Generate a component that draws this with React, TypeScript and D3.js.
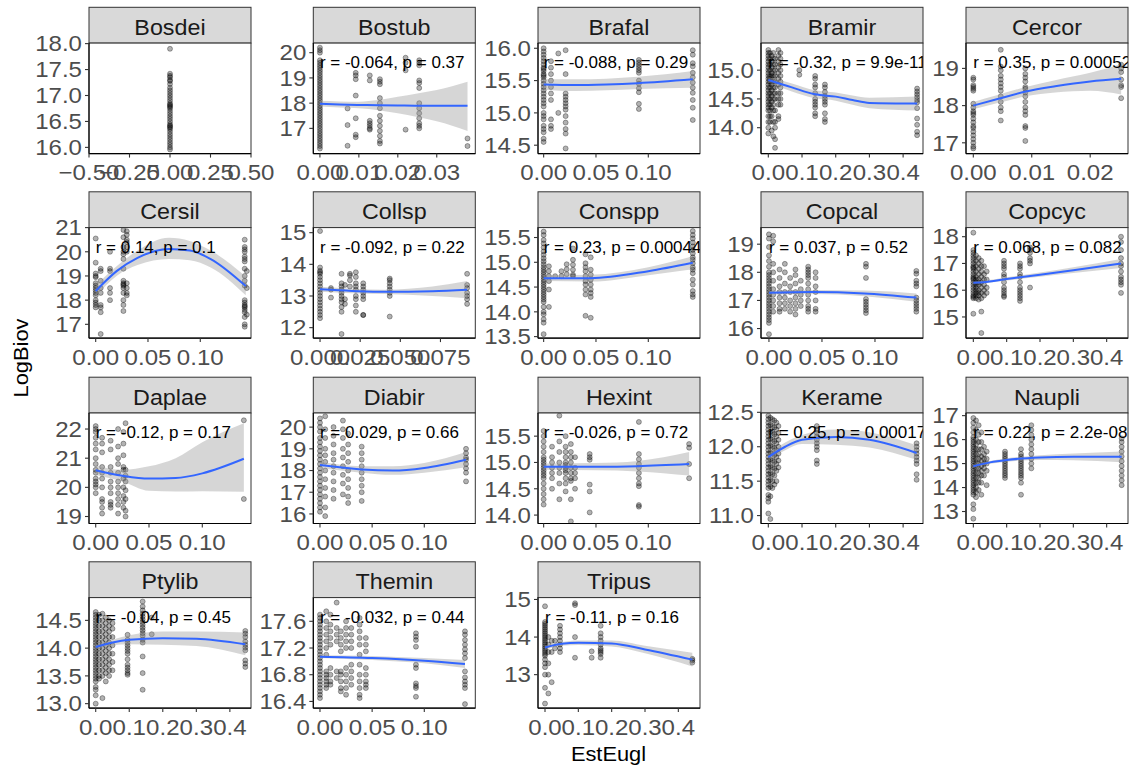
import * as d3 from 'd3';

type Group = [number, number[]];
type Band = [number, number, number, number]; // x, fit, lower, upper

// ---------- data ----------
const bosdeiPts: Group[] = [
  [0, [17.9, 17.42, 17.38, 17.35, 17.3, 17.28, 17.22, 17.15, 17.1, 17.05, 17.0, 16.95, 16.9, 16.85, 16.82, 16.8, 16.78, 16.75, 16.7, 16.65, 16.6, 16.55, 16.5, 16.45, 16.42, 16.4, 16.38, 16.35, 16.3, 16.25, 16.2, 16.15, 16.1, 16.05, 16.0, 15.96]],
];

const bostubPts: Group[] = [
  [0, [20.2, 20.1, 20.0, 19.7, 19.6, 19.5, 19.4, 19.3, 19.2, 19.1, 19.0, 18.9, 18.8, 18.7, 18.6, 18.5, 18.4, 18.3, 18.2, 18.1, 18.0, 17.9, 17.8, 17.7, 17.6, 17.5, 17.4, 17.3, 17.2, 17.1, 17.0, 16.9, 16.8, 16.7, 16.6, 16.5, 16.4, 16.3, 16.2]],
  [0.0071, [17.79, 17.13, 16.31]],
  [0.0092, [19.2, 19.1, 18.95, 18.3, 17.4, 16.75, 16.65]],
  [0.0128, [19.1, 18.9, 17.3, 17.2, 17.1, 17.0, 16.95]],
  [0.0154, [18.95, 18.85, 18.75, 18.2, 18.0, 17.8, 17.5, 17.3, 17.1, 16.9, 16.7, 16.5, 16.4]],
  [0.022, [19.8, 19.6, 19.3, 16.95]],
  [0.0255, [19.7, 19.6, 19.5, 18.9, 18.8, 18.6, 18.0, 17.8, 17.6, 17.4, 17.2, 17.1, 17.0]],
  [0.0379, [16.6, 16.3]],
];
const bostubFit: Band[] = [
  [0, 17.98, 17.87, 18.09], [0.005, 17.95, 17.83, 18.07], [0.01, 17.93, 17.8, 18.06], [0.015, 17.92, 17.72, 18.12],
  [0.02, 17.91, 17.6, 18.25], [0.025, 17.9, 17.45, 18.38], [0.03, 17.9, 17.28, 18.52], [0.0379, 17.9, 16.9, 18.85],
];

const brafalPts: Group[] = [
  [0, [16.0, 15.95, 15.9, 15.85, 15.8, 15.75, 15.7, 15.68, 15.65, 15.6, 15.58, 15.55, 15.5, 15.45, 15.4, 15.35, 15.3, 15.25, 15.2, 15.15, 15.1, 15.0, 14.95, 14.9, 14.8, 14.75, 14.7, 14.6, 14.55]],
  [0.007, [15.8, 15.7, 15.6, 15.5, 15.4, 15.3, 15.2, 14.9, 14.8, 14.75]],
  [0.014, [15.92, 15.0]],
  [0.021, [15.97, 15.6, 15.3, 15.25, 15.2, 15.15, 15.1, 15.05, 14.95, 14.85, 14.75, 14.68, 14.45]],
  [0.091, [15.82, 15.78, 15.74, 15.7, 15.66, 15.62, 15.5, 15.45, 15.38, 15.32, 15.14, 15.06]],
  [0.1425, [15.97, 15.9, 15.77, 15.72, 15.62, 15.55, 15.47, 15.39, 15.31, 15.2, 15.08, 14.89]],
];
const brafalFit: Band[] = [
  [0, 15.44, 15.36, 15.52], [0.03, 15.43, 15.34, 15.52], [0.06, 15.44, 15.35, 15.53], [0.09, 15.46, 15.37, 15.56], [0.1425, 15.52, 15.39, 15.65],
];

const bramirPts: Group[] = [
  [0, [15.35, 15.3, 15.25, 15.2, 15.15, 15.1, 15.05, 15.0, 14.95, 14.9, 14.85, 14.8, 14.75, 14.7, 14.65, 14.6, 14.55, 14.5, 14.45, 14.4, 14.35, 14.3, 14.2, 14.1, 14.0, 13.9]],
  [0.005, [15.3, 15.2, 15.1, 15.0, 14.9, 14.85, 14.8, 14.7, 14.6, 14.5, 14.4, 14.3, 14.2, 14.1]],
  [0.01, [15.25, 15.15, 15.05, 14.95, 14.9, 14.8, 14.75, 14.65, 14.55, 14.45, 14.35, 14.2, 13.95]],
  [0.015, [15.3, 15.2, 15.1, 15.0, 14.9, 14.8, 14.7, 14.6, 14.5, 14.4, 14.3, 14.1, 13.85]],
  [0.02, [15.2, 15.1, 15.0, 14.9, 14.8, 14.7, 14.6, 14.5, 14.3, 14.1, 14.0, 13.8, 13.65]],
  [0.03, [15.35, 15.25, 15.15, 15.05, 14.95, 14.85, 14.75, 14.6, 14.5, 14.4, 14.2, 14.15]],
  [0.036, [15.3, 15.2, 15.1, 15.0, 14.9, 14.8, 14.7, 14.6, 14.5, 14.4]],
  [0.092, [15.0, 14.92]],
  [0.139, [14.9, 14.85, 14.75, 14.7, 14.6, 14.5, 14.45, 14.4, 14.35, 14.25, 14.2]],
  [0.168, [14.75, 14.7, 14.62, 14.55, 14.5, 14.45, 14.4, 14.25, 14.15, 14.1]],
  [0.4415, [14.68, 14.63, 14.58, 14.53, 14.48, 14.44, 14.34, 14.16, 14.05, 13.93, 13.87]],
];
const bramirFit: Band[] = [
  [0, 14.83, 14.78, 14.88], [0.07, 14.7, 14.63, 14.77], [0.139, 14.58, 14.51, 14.65], [0.2, 14.54, 14.47, 14.61],
  [0.25, 14.48, 14.4, 14.56], [0.3, 14.43, 14.34, 14.52], [0.4415, 14.42, 14.3, 14.54],
];

const cercorPts: Group[] = [
  [0, [18.75, 18.7, 18.55, 18.5, 18.45, 18.4, 18.05, 17.95, 17.85, 17.8, 17.75, 17.65, 17.55, 17.45, 17.4, 17.3, 17.2, 17.1, 17.0, 16.9, 16.85]],
  [0.0047, [19.5, 19.05, 18.95, 18.8, 18.7, 18.6, 18.5, 18.4, 18.25, 18.1, 17.95, 17.85, 17.6]],
  [0.0089, [19.0, 18.85, 18.75, 18.65, 18.5, 18.45, 18.35, 18.25, 18.1, 17.95, 17.85, 17.75, 17.45, 17.4, 17.05]],
  [0.0253, [19.1, 19.0, 18.9, 18.7, 18.55, 18.5, 18.2]],
];
const cercorFit: Band[] = [
  [0, 18.0, 17.9, 18.1], [0.004, 18.17, 18.06, 18.28], [0.009, 18.38, 18.25, 18.5], [0.014, 18.52, 18.35, 18.68],
  [0.02, 18.65, 18.4, 18.88], [0.0253, 18.72, 18.3, 19.12],
];

const cersilPts: Group[] = [
  [0, [20.55, 19.55, 19.1, 19.0, 18.95, 18.7, 18.6, 18.5, 18.4, 18.3, 18.2, 18.0, 17.9, 17.8, 17.7]],
  [0.0048, [19.3, 19.2, 18.8, 18.5, 18.3, 17.8, 17.7, 17.5, 16.6]],
  [0.0137, [20.0, 19.3, 19.2, 18.5, 18.3, 18.0]],
  [0.0265, [20.9, 20.6, 20.2, 20.0, 19.9, 19.7, 19.3, 18.8, 18.7, 18.65, 18.6, 18.5, 18.3, 18.0, 17.8, 17.55]],
  [0.0297, [20.85, 20.7, 20.5, 20.4, 20.2, 20.0, 18.7, 18.5, 18.3, 18.2]],
  [0.1425, [20.5, 20.2, 20.1, 20.0, 19.8, 19.7, 19.6, 19.3, 19.0, 18.8, 18.6, 18.0, 17.9, 17.8, 17.75, 17.7, 17.6, 17.5, 17.3, 17.0, 16.9]],
  [0.1445, [19.2, 18.5, 17.4]],
];
const cersilFit: Band[] = [
  [0, 18.38, 18.15, 18.6], [0.02, 19.2, 19.0, 19.4], [0.04, 19.75, 19.45, 20.05], [0.07, 20.12, 19.7, 20.58],
  [0.09, 20.05, 19.65, 20.45], [0.11, 19.7, 19.35, 20.05], [0.1435, 18.58, 18.2, 18.98],
];

const collspPts: Group[] = [
  [0, [15.05, 13.9, 13.8, 13.75, 13.7, 13.6, 13.5, 13.4, 13.3, 13.2, 13.1, 13.0, 12.9, 12.8, 12.7, 12.6, 12.5, 12.4, 12.3]],
  [0.0068, [13.25, 13.2, 12.95]],
  [0.0134, [13.7, 13.4, 13.3, 13.2, 13.1, 13.0, 12.9, 12.8, 12.65, 12.5, 11.8]],
  [0.0155, [13.35, 12.9, 12.75]],
  [0.0186, [13.7, 13.65, 13.5, 13.3]],
  [0.0223, [13.75, 13.6, 13.4, 13.3, 13.2, 13.0, 12.9, 12.7, 12.5]],
  [0.0269, [13.4, 13.3, 13.2, 13.1, 13.0, 12.9, 12.4, 12.4]],
  [0.0434, [13.55, 13.5, 13.4, 13.3, 13.2, 13.1, 13.0, 12.35]],
  [0.0916, [13.7, 13.35, 13.25, 13.1, 13.0, 12.9, 12.75]],
];
const collspFit: Band[] = [
  [0, 13.21, 13.13, 13.29], [0.02, 13.16, 13.09, 13.23], [0.04, 13.13, 13.06, 13.2], [0.07, 13.15, 13.0, 13.3], [0.0916, 13.2, 12.93, 13.47],
];

const consppPts: Group[] = [
  [0, [15.62, 15.55, 15.45, 15.38, 15.3, 15.22, 15.15, 15.08, 15.02, 14.96, 14.9, 14.85, 14.8, 14.75, 14.7, 14.65, 14.6, 14.55, 14.5, 14.45, 14.4, 14.35, 14.3, 14.25, 14.2, 14.1, 14.0, 13.95, 13.85, 13.78, 13.55]],
  [0.005, [14.92, 14.82, 14.72, 14.62, 14.45, 14.1]],
  [0.011, [14.72]],
  [0.017, [14.82, 14.72]],
  [0.022, [14.96, 14.86, 14.76]],
  [0.028, [15.28, 15.05, 14.95, 14.85, 14.75, 14.72]],
  [0.04, [15.16, 14.98, 14.9, 14.82, 14.72, 14.62, 14.55, 14.45, 14.35, 13.92]],
  [0.045, [15.1, 14.85, 14.75, 14.65, 14.55, 14.45, 14.38, 14.3, 13.88]],
  [0.1425, [15.63, 15.55, 15.48, 15.4, 15.32, 15.25, 15.18, 15.1, 15.05, 14.98, 14.9, 14.85, 14.78, 14.65, 14.55, 14.42, 14.35, 14.3]],
];
const consppFit: Band[] = [
  [0, 14.68, 14.62, 14.74], [0.045, 14.68, 14.61, 14.75], [0.1, 14.82, 14.74, 14.9], [0.1425, 14.99, 14.86, 15.12],
];

const copcalPts: Group[] = [
  [0, [19.35, 19.2, 18.9, 18.6, 18.4, 18.2, 18.0, 17.9, 17.8, 17.7, 17.6, 17.5, 17.4, 17.3, 17.2, 17.1, 17.0, 16.9, 16.8, 16.7, 16.6, 16.5, 16.4, 16.3, 16.2, 15.8]],
  [0.004, [19.3, 19.1, 18.3, 18.0, 17.7, 17.4, 17.2, 17.0, 16.8, 16.6]],
  [0.01, [18.1, 17.8, 17.5, 17.3, 17.1, 16.9, 16.7, 16.6]],
  [0.015, [18.3, 18.0, 17.6, 17.3, 17.1, 16.9, 16.7]],
  [0.02, [17.8, 17.5, 17.3, 17.0, 16.8, 16.6]],
  [0.025, [18.1, 17.9, 17.6, 17.3, 17.1, 16.9, 16.7, 16.5]],
  [0.03, [17.7, 17.4, 17.2, 17.0, 16.8]],
  [0.037, [18.2, 18.1, 18.0, 17.9, 17.8, 17.6, 17.4, 17.2, 17.0, 16.8, 16.7, 16.6]],
  [0.044, [18.0, 17.8, 17.5, 17.3, 17.0, 16.7, 16.6]],
  [0.0915, [18.3, 18.2, 17.8, 17.05, 16.95, 16.85, 16.75, 16.65, 16.55]],
  [0.139, [18.05, 17.95, 17.7, 17.6, 17.5, 17.1, 17.0, 16.9, 16.8, 16.7, 16.6]],
];
const copcalFit: Band[] = [
  [0, 17.27, 17.2, 17.34], [0.04, 17.3, 17.23, 17.37], [0.09, 17.25, 17.15, 17.35], [0.139, 17.1, 16.95, 17.25],
];

const copcycPts: Group[] = [
  [0, [18.15, 17.5, 17.4, 17.3, 17.2, 17.1, 17.0, 16.9, 16.85, 16.8, 16.7, 16.6, 16.5, 16.45, 16.4, 16.3, 16.2, 16.1, 16.0, 15.9, 15.8, 15.75, 15.7, 15.12]],
  [0.008, [17.3, 17.1, 16.9, 16.7, 16.5, 16.4, 16.3, 16.2, 16.1, 16.0, 15.9, 15.8, 15.7]],
  [0.016, [17.2, 17.0, 16.8, 16.6, 16.4, 16.3, 16.2, 16.0, 15.9, 15.8, 15.65]],
  [0.024, [17.1, 16.9, 16.7, 16.5, 16.3, 16.1, 15.9, 15.7, 15.2, 14.4]],
  [0.032, [16.9, 16.6, 16.4, 16.2, 16.0, 15.8]],
  [0.04, [16.7, 16.4, 16.1, 15.9]],
  [0.092, [17.1, 17.0, 16.9, 16.8, 16.6, 16.5, 16.3, 16.1, 16.0, 15.9, 15.8, 15.75]],
  [0.14, [17.0, 16.9, 16.8, 16.6, 16.5, 16.3, 16.1, 16.0, 15.9, 15.8, 15.7, 15.6]],
  [0.17, [17.6, 17.5, 17.4, 17.2, 17.1, 17.0, 16.1]],
  [0.443, [18.0, 17.8, 17.5, 17.2, 17.0, 16.9, 16.7, 16.5, 16.4, 16.3, 16.2, 15.9]],
];
const copcycFit: Band[] = [
  [0, 16.28, 16.23, 16.33], [0.03, 16.3, 16.25, 16.35], [0.1, 16.42, 16.36, 16.48], [0.2, 16.58, 16.5, 16.66],
  [0.3, 16.75, 16.64, 16.86], [0.443, 17.0, 16.83, 17.17],
];

const daplaePts: Group[] = [
  [0, [22.1, 22.0, 21.9, 21.7, 21.5, 21.3, 21.0, 20.8, 20.6, 20.5, 20.3, 20.2, 20.1, 20.0, 19.8]],
  [0.006, [21.7, 21.5, 21.2, 20.7, 20.5, 20.3, 20.0, 19.6, 19.5, 19.3, 19.1]],
  [0.014, [21.6, 21.3, 20.7, 20.5, 20.2, 20.0, 19.8, 19.5, 19.4, 19.3]],
  [0.021, [22.0, 21.4, 21.0, 20.8, 20.5, 20.2, 20.0, 19.8, 19.6, 19.4, 19.1]],
  [0.026, [21.9, 21.5, 21.1, 20.7, 20.6, 20.3, 20.0, 19.7, 19.5, 19.3]],
  [0.028, [22.2, 20.6, 20.4, 20.2, 19.9, 19.6, 19.2, 19.0]],
  [0.139, [22.3, 19.6]],
];
const daplaeFit: Band[] = [
  [0, 20.59, 20.42, 20.76], [0.025, 20.4, 20.2, 20.6], [0.05, 20.3, 19.88, 20.72], [0.075, 20.32, 19.86, 21.0],
  [0.1, 20.48, 19.87, 21.55], [0.139, 20.98, 19.85, 22.2],
];

const diabirPts: Group[] = [
  [0, [20.4, 20.2, 20.0, 19.8, 19.5, 19.3, 19.1, 18.9, 18.7, 18.5, 18.3, 18.1, 17.9, 17.7, 17.5, 17.3, 17.1, 16.9, 16.7, 16.5, 16.3, 16.1]],
  [0.005, [20.5, 19.9, 19.5, 19.0, 18.7, 18.4, 18.0, 17.6, 17.2, 16.8, 16.3, 15.9]],
  [0.013, [20.0, 19.6, 19.2, 18.8, 18.5, 18.2, 17.9, 17.5, 17.1, 16.7]],
  [0.022, [20.3, 19.9, 19.5, 19.0, 18.6, 18.2, 17.8, 17.4, 16.9]],
  [0.027, [19.7, 19.2, 18.8, 18.4, 18.0, 17.6, 17.2, 16.8, 16.5]],
  [0.04, [19.1, 18.8, 18.5, 18.2, 17.9, 17.6, 17.3, 17.0, 16.6]],
  [0.14, [19.0, 18.8, 18.6, 18.5, 18.3, 18.1, 17.9, 17.5]],
];
const diabirFit: Band[] = [
  [0, 18.25, 18.1, 18.4], [0.04, 18.05, 17.9, 18.2], [0.07, 18.0, 17.8, 18.2], [0.1, 18.12, 17.9, 18.35], [0.14, 18.5, 18.15, 18.85],
];

const hexintPts: Group[] = [
  [0, [15.6, 15.5, 15.4, 15.3, 15.2, 15.1, 15.05, 15.0, 14.95, 14.9, 14.85, 14.8, 14.75, 14.7, 14.6, 14.5, 14.4, 14.3, 14.2]],
  [0.008, [15.3, 15.1, 15.0, 14.9, 14.8, 14.7, 14.5]],
  [0.015, [15.89, 15.4, 15.2, 15.0, 14.9, 14.8, 14.6, 14.3]],
  [0.021, [15.5, 15.3, 15.2, 15.1, 15.0, 14.95, 14.9, 14.85, 14.8, 14.7, 14.6, 14.45]],
  [0.026, [15.35, 15.2, 15.1, 15.0, 14.9, 14.8, 14.7, 14.65, 14.3, 13.88]],
  [0.03, [15.1, 14.9, 14.8, 14.7, 14.5]],
  [0.044, [15.16, 15.1, 15.05, 14.58, 14.45, 14.05]],
  [0.091, [15.77, 15.16, 15.06, 14.97, 14.9, 14.8, 14.7, 14.6, 14.55, 14.19, 14.16]],
  [0.139, [15.35, 15.28, 14.97, 14.7]],
];
const hexintFit: Band[] = [
  [0, 14.92, 14.86, 14.98], [0.05, 14.92, 14.85, 14.99], [0.09, 14.93, 14.83, 15.03], [0.139, 14.97, 14.75, 15.2],
];

const keramePts: Group[] = [
  [0, [12.45, 12.4, 12.35, 12.3, 12.25, 12.2, 12.15, 12.1, 12.05, 12.0, 11.95, 11.9, 11.85, 11.8, 11.75, 11.7, 11.65, 11.6, 11.55, 11.5, 11.45, 11.4, 11.3, 11.25, 11.2, 11.03]],
  [0.006, [12.42, 12.32, 12.22, 12.12, 12.02, 11.92, 11.82, 11.72, 11.62, 11.52, 11.42, 11.28, 10.95]],
  [0.012, [12.4, 12.3, 12.2, 12.1, 12.0, 11.9, 11.8, 11.7, 11.6, 11.5, 11.4]],
  [0.018, [12.38, 12.28, 12.18, 12.08, 11.98, 11.88, 11.78, 11.68, 11.58, 11.45]],
  [0.024, [12.35, 12.25, 12.15, 12.05, 11.95, 11.85, 11.75, 11.65, 11.5]],
  [0.03, [12.3, 12.2, 12.1, 12.0, 11.9, 11.8, 11.7]],
  [0.144, [12.3, 12.25, 12.2, 12.15, 12.1, 12.05, 12.0, 11.95, 11.8, 11.75]],
  [0.44, [12.05, 12.0, 11.95, 11.9, 11.85, 11.8, 11.75, 11.6, 11.52]],
];
const kerameFit: Band[] = [
  [0, 11.85, 11.8, 11.9], [0.05, 12.0, 11.95, 12.06], [0.1, 12.1, 12.04, 12.17], [0.2, 12.14, 12.03, 12.25],
  [0.3, 12.1, 11.99, 12.21], [0.44, 11.91, 11.81, 12.02],
];

const naupliPts: Group[] = [
  [0, [16.9, 16.7, 16.5, 16.3, 16.1, 16.0, 15.9, 15.8, 15.7, 15.6, 15.5, 15.4, 15.3, 15.2, 15.1, 15.0, 14.9, 14.8, 14.7, 14.6, 14.5, 14.4, 14.3, 14.2, 14.1, 14.0, 13.9, 13.8, 13.7, 13.3, 13.1, 12.7]],
  [0.008, [16.8, 16.4, 16.0, 15.8, 15.6, 15.4, 15.2, 15.0, 14.8, 14.6, 14.4, 14.2, 14.0, 13.8, 13.6]],
  [0.016, [16.6, 16.2, 15.9, 15.6, 15.4, 15.2, 15.0, 14.8, 14.6, 14.4, 14.2, 13.9]],
  [0.024, [16.3, 15.9, 15.6, 15.3, 15.1, 14.9, 14.7, 14.5, 14.2, 13.7]],
  [0.032, [15.7, 15.4, 15.2, 15.0, 14.8, 14.5]],
  [0.04, [15.5, 15.2, 15.0, 14.7, 14.1]],
  [0.095, [15.5, 15.4, 15.3, 15.2, 15.1, 15.0, 14.9, 14.8, 14.7, 14.6, 14.5, 14.4]],
  [0.143, [15.6, 15.4, 15.3, 15.2, 15.1, 15.0, 14.9, 14.8, 14.7, 14.6, 14.5, 14.4, 14.2, 13.7]],
  [0.174, [16.6, 16.4, 16.2, 16.0, 15.8, 15.6, 15.4, 15.2, 15.0, 14.8]],
  [0.445, [16.05, 15.9, 15.7, 15.5, 15.3, 15.1, 14.9, 14.7, 14.5, 14.3, 14.1]],
];
const naupliFit: Band[] = [
  [0, 14.89, 14.83, 14.95], [0.05, 15.05, 14.99, 15.11], [0.1, 15.15, 15.08, 15.22], [0.2, 15.25, 15.15, 15.35],
  [0.3, 15.28, 15.14, 15.42], [0.445, 15.28, 15.06, 15.5],
];

const ptylibPts: Group[] = [
  [0, [14.65, 14.6, 14.55, 14.5, 14.45, 14.4, 14.35, 14.3, 14.25, 14.2, 14.15, 14.1, 14.05, 14.0, 13.95, 13.9, 13.85, 13.8, 13.75, 13.7, 13.65, 13.6, 13.55, 13.5, 13.45, 13.4, 13.3, 13.25, 13.15, 13.0]],
  [0.01, [14.6, 14.5, 14.4, 14.3, 14.2, 14.1, 14.0, 13.9, 13.8, 13.7, 13.6, 13.5, 13.45]],
  [0.02, [14.62, 14.5, 14.4, 14.3, 14.2, 14.1, 14.0, 13.9, 13.8, 13.7, 13.6, 13.5, 13.1]],
  [0.03, [14.55, 14.45, 14.35, 14.25, 14.15, 14.05, 13.95, 13.85, 13.75, 13.65, 13.55, 13.4]],
  [0.04, [14.5, 14.4, 14.3, 14.2, 14.1, 14.0, 13.9, 13.8, 13.7, 13.6, 13.5]],
  [0.05, [14.45, 14.35, 14.2, 14.05, 13.9, 13.75, 13.6]],
  [0.095, [14.24, 14.15, 14.1, 14.05, 14.0, 13.95, 13.9, 13.8, 13.7, 13.65, 13.6, 13.55, 13.52]],
  [0.14, [14.84, 14.75, 14.68, 14.62, 14.57, 14.52, 14.47, 14.42, 14.37, 14.32, 14.27, 14.22, 14.15, 14.1, 13.85, 13.55, 13.25]],
  [0.167, [14.55, 14.25]],
  [0.446, [14.31, 14.26, 14.2, 14.12, 14.06, 14.01, 13.96, 13.78, 13.72, 13.66]],
];
const ptylibFit: Band[] = [
  [0, 14.02, 13.98, 14.06], [0.05, 14.1, 14.05, 14.15], [0.1, 14.15, 14.07, 14.23], [0.2, 14.18, 14.06, 14.3],
  [0.3, 14.17, 14.04, 14.3], [0.446, 14.07, 13.87, 14.28],
];

const theminPts: Group[] = [
  [0, [17.7, 17.65, 17.6, 17.55, 17.5, 17.45, 17.4, 17.35, 17.3, 17.25, 17.2, 17.15, 17.1, 17.05, 17.0, 16.95, 16.9, 16.85, 16.8, 16.75, 16.7, 16.65, 16.6, 16.55, 16.5, 16.45]],
  [0.006, [17.75, 17.6, 17.5, 17.4, 17.3, 17.2, 17.1, 16.85, 16.8, 16.75, 16.7, 16.65, 16.6]],
  [0.01, [17.7, 17.55, 17.45, 17.35, 17.25, 16.9, 16.8, 16.7, 16.65]],
  [0.016, [17.88, 17.5, 17.4, 17.3, 16.85, 16.75]],
  [0.02, [17.45, 17.35, 17.25, 17.15, 16.85, 16.8, 16.7, 16.6, 16.55]],
  [0.025, [17.6, 17.5, 17.4, 17.3, 17.2, 16.9, 16.8, 16.7, 16.6, 16.5]],
  [0.03, [17.5, 17.4, 17.3, 17.2, 16.95, 16.85, 16.75, 16.65]],
  [0.038, [17.65, 17.55, 17.45, 17.35, 17.25, 17.1, 16.95, 16.8, 16.7, 16.6, 16.5, 16.45]],
  [0.044, [17.35, 17.25, 17.15, 16.9, 16.8, 16.7, 16.65, 16.6]],
  [0.092, [17.42, 17.37, 17.32, 17.22, 16.95, 16.9, 16.67, 16.63, 16.6, 16.47]],
  [0.139, [17.45, 17.4, 17.32, 17.25, 17.18, 17.12, 17.05, 16.85, 16.76, 16.7, 16.65, 16.6, 16.36]],
];
const theminFit: Band[] = [
  [0, 17.07, 17.05, 17.09], [0.05, 17.05, 17.02, 17.08], [0.1, 17.01, 16.97, 17.05], [0.139, 16.96, 16.9, 17.02],
];

const tripusPts: Group[] = [
  [0, [14.82, 14.4, 14.35, 14.3, 14.25, 14.2, 14.15, 14.1, 14.05, 14.0, 13.95, 13.9, 13.85, 13.8, 13.75, 13.7, 13.65, 13.6, 13.55, 13.5, 13.4, 13.3, 13.2, 13.0, 12.65, 12.23]],
  [0.01, [14.0, 13.8, 13.6, 13.3, 13.0, 12.5]],
  [0.02, [13.9, 13.6, 12.8]],
  [0.03, [13.9, 13.7]],
  [0.045, [14.3, 14.2, 14.1, 14.0, 13.9, 13.8, 13.7, 13.6]],
  [0.09, [14.9, 14.85, 14.0, 13.45]],
  [0.14, [13.62, 13.45]],
  [0.167, [14.3, 14.1, 14.0, 13.9, 13.8, 13.7, 13.65, 13.6, 13.55, 13.45]],
  [0.442, [13.42, 13.38, 13.32]],
];
const tripusFit: Band[] = [
  [0, 13.72, 13.66, 13.78], [0.05, 13.82, 13.77, 13.87], [0.1, 13.85, 13.79, 13.91], [0.2, 13.83, 13.75, 13.91],
  [0.3, 13.67, 13.57, 13.77], [0.442, 13.4, 13.22, 13.58],
];

// ---------- panel definitions ----------
type PanelDef = {
  name: string;
  xDomain: [number, number];
  yDomain: [number, number];
  xTicks: number[];
  xFmt: string;
  yTicks: number[];
  yFmt: string;
  pts: Group[];
  fit: Band[] | null;
  label: string | null;
};

const T2 = [0, 0.05, 0.1];
const T4 = [0, 0.1, 0.2, 0.3, 0.4];

const panels: PanelDef[] = [
  { name: 'Bosdei', xDomain: [-0.5, 0.5], yDomain: [15.88, 18.01], xTicks: [-0.5, -0.25, 0, 0.25, 0.5], xFmt: '.2f', yTicks: [16, 16.5, 17, 17.5, 18], yFmt: '.1f', pts: bosdeiPts, fit: null, label: null },
  { name: 'Bostub', xDomain: [-0.0017, 0.0399], yDomain: [16.0, 20.38], xTicks: [0, 0.01, 0.02, 0.03], xFmt: '.2f', yTicks: [17, 18, 19, 20], yFmt: 'd', pts: bostubPts, fit: bostubFit, label: 'r = -0.064, p = 0.37' },
  { name: 'Brafal', xDomain: [-0.0054, 0.1494], yDomain: [14.37, 16.08], xTicks: T2, xFmt: '.2f', yTicks: [14.5, 15, 15.5, 16], yFmt: '.1f', pts: brafalPts, fit: brafalFit, label: 'r = -0.088, p = 0.29' },
  { name: 'Bramir', xDomain: [-0.0217, 0.459], yDomain: [13.55, 15.47], xTicks: T4, xFmt: '.1f', yTicks: [14, 14.5, 15], yFmt: '.1f', pts: bramirPts, fit: bramirFit, label: 'r = -0.32, p = 9.9e-11' },
  { name: 'Cercor', xDomain: [-0.00125, 0.02647], yDomain: [16.71, 19.68], xTicks: [0, 0.01, 0.02], xFmt: '.2f', yTicks: [17, 18, 19], yFmt: 'd', pts: cercorPts, fit: cercorFit, label: 'r = 0.35, p = 0.00052' },
  { name: 'Cersil', xDomain: [-0.0064, 0.1485], yDomain: [16.43, 21.0], xTicks: T2, xFmt: '.2f', yTicks: [17, 18, 19, 20, 21], yFmt: 'd', pts: cersilPts, fit: cersilFit, label: 'r = 0.14, p = 0.1' },
  { name: 'Collsp', xDomain: [-0.0042, 0.0967], yDomain: [11.67, 15.16], xTicks: [0, 0.025, 0.05, 0.075], xFmt: '.3f', yTicks: [12, 13, 14, 15], yFmt: 'd', pts: collspPts, fit: collspFit, label: 'r = -0.092, p = 0.22' },
  { name: 'Conspp', xDomain: [-0.0054, 0.1494], yDomain: [13.47, 15.7], xTicks: T2, xFmt: '.2f', yTicks: [13.5, 14, 14.5, 15, 15.5], yFmt: '.1f', pts: consppPts, fit: consppFit, label: 'r = 0.23, p = 0.00044' },
  { name: 'Copcal', xDomain: [-0.0075, 0.1453], yDomain: [15.66, 19.59], xTicks: T2, xFmt: '.2f', yTicks: [16, 17, 18, 19], yFmt: 'd', pts: copcalPts, fit: copcalFit, label: 'r = 0.037, p = 0.52' },
  { name: 'Copcyc', xDomain: [-0.022, 0.464], yDomain: [14.21, 18.34], xTicks: T4, xFmt: '.1f', yTicks: [15, 16, 17, 18], yFmt: 'd', pts: copcycPts, fit: copcycFit, label: 'r = 0.068, p = 0.082' },
  { name: 'Daplae', xDomain: [-0.0063, 0.1457], yDomain: [18.76, 22.55], xTicks: T2, xFmt: '.2f', yTicks: [19, 20, 21, 22], yFmt: 'd', pts: daplaePts, fit: daplaeFit, label: 'r = -0.12, p = 0.17' },
  { name: 'Diabir', xDomain: [-0.0064, 0.1489], yDomain: [15.56, 20.65], xTicks: T2, xFmt: '.2f', yTicks: [16, 17, 18, 19, 20], yFmt: 'd', pts: diabirPts, fit: diabirFit, label: 'r = 0.029, p = 0.66' },
  { name: 'Hexint', xDomain: [-0.0054, 0.1494], yDomain: [13.84, 15.94], xTicks: T2, xFmt: '.2f', yTicks: [14, 14.5, 15, 15.5], yFmt: '.1f', pts: hexintPts, fit: hexintFit, label: 'r = -0.026, p = 0.72' },
  { name: 'Kerame', xDomain: [-0.0217, 0.459], yDomain: [10.885, 12.49], xTicks: T4, xFmt: '.1f', yTicks: [11, 11.5, 12, 12.5], yFmt: '.1f', pts: keramePts, fit: kerameFit, label: 'r = 0.25, p = 0.00017' },
  { name: 'Naupli', xDomain: [-0.022, 0.464], yDomain: [12.5, 17.11], xTicks: T4, xFmt: '.1f', yTicks: [13, 14, 15, 16, 17], yFmt: 'd', pts: naupliPts, fit: naupliFit, label: 'r = 0.22, p = 2.2e-08' },
  { name: 'Ptylib', xDomain: [-0.02, 0.463], yDomain: [12.92, 14.91], xTicks: T4, xFmt: '.1f', yTicks: [13, 13.5, 14, 14.5], yFmt: '.1f', pts: ptylibPts, fit: ptylibFit, label: 'r = -0.04, p = 0.45' },
  { name: 'Themin', xDomain: [-0.0064, 0.1489], yDomain: [16.3, 17.955], xTicks: T2, xFmt: '.2f', yTicks: [16.4, 16.8, 17.2, 17.6], yFmt: '.1f', pts: theminPts, fit: theminFit, label: 'r = -0.032, p = 0.44' },
  { name: 'Tripus', xDomain: [-0.021, 0.465], yDomain: [12.11, 15.05], xTicks: T4, xFmt: '.1f', yTicks: [13, 14, 15], yFmt: 'd', pts: tripusPts, fit: tripusFit, label: 'r = -0.11, p = 0.16' },
];

// ---------- layout ----------
const WIDTH = 1132;
const HEIGHT = 769;
const COL_X = [89, 313.3, 538, 761, 966];
const ROW_Y = [7.3, 191.8, 377.2, 561.8];
const PW = 162;
const PH = 110.5;
const STRIP = 35.8;
const FONT = "'Liberation Sans', Arial, sans-serif";

// text that is a bit wider than the font's own metrics, like the reference
const WideText = ({ x, y, sx, anchor, size, fill, dy, children }: {
  x: number; y: number; sx: number; anchor: 'start' | 'middle' | 'end'; size: number; fill: string; dy?: string; children: string;
}) => (
  <text
    transform={`translate(${x},${y}) scale(${sx},1)`}
    dy={dy}
    textAnchor={anchor}
    fontSize={size}
    fill={fill}
    fontFamily={FONT}
  >
    {children}
  </text>
);

const Panel = ({ p, i }: { p: PanelDef; i: number }) => {
  const left = COL_X[i % 5];
  const stripTop = ROW_Y[Math.floor(i / 5)];
  const top = stripTop + STRIP;

  const x = d3.scaleLinear().domain(p.xDomain).range([0, PW]);
  const y = d3.scaleLinear().domain(p.yDomain).range([PH, 0]);

  const band = d3
    .area<Band>()
    .x((d) => x(d[0]))
    .y0((d) => y(d[2]))
    .y1((d) => y(d[3]))
    .curve(d3.curveMonotoneX);
  const fitLine = d3
    .line<Band>()
    .x((d) => x(d[0]))
    .y((d) => y(d[1]))
    .curve(d3.curveMonotoneX);

  const xf = d3.format(p.xFmt);
  const yf = d3.format(p.yFmt);
  const clipId = `clip-${p.name}`;

  return (
    <g>
      {/* strip */}
      <rect x={left} y={stripTop} width={PW} height={STRIP} fill="#D9D9D9" stroke="#333333" strokeWidth={1} />
      <WideText x={left + PW / 2} y={stripTop + 27.4} sx={1.06} anchor="middle" size={22} fill="#1A1A1A">
        {p.name}
      </WideText>

      <g transform={`translate(${left},${top})`}>
        <clipPath id={clipId}>
          <rect x={0} y={0} width={PW} height={PH} />
        </clipPath>
        <rect x={0} y={0} width={PW} height={PH} fill="white" />
        <g clipPath={`url(#${clipId})`}>
          {p.pts.map(([gx, vals], gi) =>
            vals.map((v, k) => (
              <circle key={`${gi}-${k}`} cx={x(gx)} cy={y(v)} r={2.5} fill="rgba(0,0,0,0.3)" stroke="rgba(0,0,0,0.4)" strokeWidth={0.8} />
            ))
          )}
          {p.fit && <path d={band(p.fit) ?? ''} fill="#999999" fillOpacity={0.4} />}
          {p.fit && <path d={fitLine(p.fit) ?? ''} fill="none" stroke="#3366FF" strokeWidth={2} />}
          {p.label && (
            <text x={x(p.xDomain[0] < 0 ? 0 : p.xDomain[0])} y={25.3} fontSize={17} fill="black" fontFamily={FONT}>
              {p.label}
            </text>
          )}
        </g>
        <rect x={0} y={0} width={PW} height={PH} fill="none" stroke="#333333" strokeWidth={1} />
        <line x1={0} x2={0} y1={0} y2={PH} stroke="black" strokeWidth={1.1} />
        <line x1={0} x2={PW} y1={PH} y2={PH} stroke="black" strokeWidth={1.1} />

        {/* y axis */}
        {p.yTicks.map((t) => (
          <g key={`y${t}`}>
            <line x1={-4} x2={0} y1={y(t)} y2={y(t)} stroke="#333333" strokeWidth={1.1} />
            <WideText x={-7} y={y(t)} dy="0.36em" sx={1.12} anchor="end" size={21.5} fill="#4D4D4D">
              {yf(t)}
            </WideText>
          </g>
        ))}
        {/* x axis */}
        {p.xTicks.map((t) => (
          <g key={`x${t}`}>
            <line x1={x(t)} x2={x(t)} y1={PH} y2={PH + 4} stroke="#333333" strokeWidth={1.1} />
            <WideText x={x(t)} y={PH + 26.4} sx={1.12} anchor="middle" size={21.5} fill="#4D4D4D">
              {xf(t)}
            </WideText>
          </g>
        ))}
      </g>
    </g>
  );
};

export default function App() {
  return (
    <svg
      width={WIDTH}
      height={HEIGHT}
      style={{ position: 'absolute', left: 0, top: 0, background: 'white' }}
    >
      <rect width={WIDTH} height={HEIGHT} fill="white" />
      {panels.map((p, i) => (
        <Panel key={p.name} p={p} i={i} />
      ))}
      <text transform="translate(27.5,358) rotate(-90) scale(1.04,1)" textAnchor="middle" fontSize={21} fill="black" fontFamily={FONT}>
        LogBiov
      </text>
      <WideText x={608.5} y={761} sx={1.04} anchor="middle" size={21} fill="black">
        EstEugl
      </WideText>
    </svg>
  );
}
